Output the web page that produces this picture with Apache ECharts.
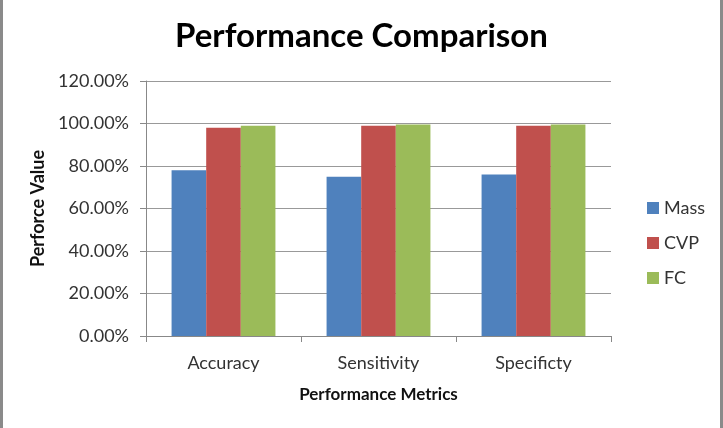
<!DOCTYPE html>
<html>
<head>
<meta charset="utf-8">
<script src="https://cdn.jsdelivr.net/npm/echarts@6/dist/echarts.min.js"></script>
<style>
  html, body { margin: 0; padding: 0; background: #fff; }
  #main { width: 723px; height: 428px; }
</style>
</head>
<body>
<div id="main"></div>
<script>
// data (percent)
var categories = ['Accuracy', 'Sensitivity', 'Specificty'];
var massValues = [78, 75, 76];
var cvpValues = [98, 99, 99];
var fcValues = [99, 99.5, 99.5];
var seriesNames = ['Mass', 'CVP', 'FC'];

var myChart = echarts.init(document.getElementById('main'));
var font = 'Lato, "Open Sans", sans-serif';

var option = {
    backgroundColor: '#fff',
    color: ['#4F81BD', '#C0504D', '#9BBB59'],
    title: {
        text: 'Performance Comparison',
        left: 'center',
        top: 15,
        textStyle: { fontFamily: font, fontSize: 33, fontWeight: 'bold', color: '#000' }
    },
    legend: {
        orient: 'vertical',
        left: 642,
        top: 194,
        itemWidth: 12,
        itemHeight: 12,
        itemGap: 17,
        icon: 'rect',
        data: seriesNames,
        textStyle: { fontFamily: font, fontSize: 18, color: '#333' }
    },
    grid: { left: 146, right: 112, top: 81, bottom: 92 },
    xAxis: {
        type: 'category',
        data: categories,
        name: 'Performance Metrics',
        nameLocation: 'middle',
        nameGap: 50,
        nameTextStyle: { fontFamily: font, fontSize: 17, fontWeight: 'bold', color: '#111' },
        axisLine: { lineStyle: { color: '#888' } },
        axisTick: { show: true, length: 6, alignWithLabel: false, lineStyle: { color: '#888' } },
        axisLabel: { fontFamily: font, fontSize: 18, color: '#333', margin: 18 }
    },
    yAxis: {
        type: 'value',
        min: 0,
        max: 120,
        interval: 20,
        name: 'Perforce Value',
        nameLocation: 'middle',
        nameGap: 98,
        nameTextStyle: { fontFamily: font, fontSize: 18, fontWeight: 'bold', color: '#111' },
        axisLine: { show: true, lineStyle: { color: '#888' } },
        axisTick: { show: true, length: 6, lineStyle: { color: '#888' } },
        axisLabel: {
            fontFamily: font, fontSize: 18, color: '#333', margin: 17,
            formatter: function (v) { return v.toFixed(2) + '%'; }
        },
        splitLine: { lineStyle: { color: '#999', width: 1 } }
    },
    series: [
        { name: 'Mass', type: 'bar', data: massValues, barGap: '0%', barCategoryGap: '33%' },
        { name: 'CVP', type: 'bar', data: cvpValues, barGap: '0%', barCategoryGap: '33%' },
        { name: 'FC', type: 'bar', data: fcValues, barGap: '0%', barCategoryGap: '33%' }
    ],
    graphic: [
        { type: 'rect', shape: { x: 0, y: 0, width: 3, height: 428 }, style: { fill: '#8a8a8a' } },
        { type: 'rect', shape: { x: 720, y: 0, width: 3, height: 428 }, style: { fill: '#8a8a8a' } }
    ]
};

myChart.setOption(option);
</script>
</body>
</html>
